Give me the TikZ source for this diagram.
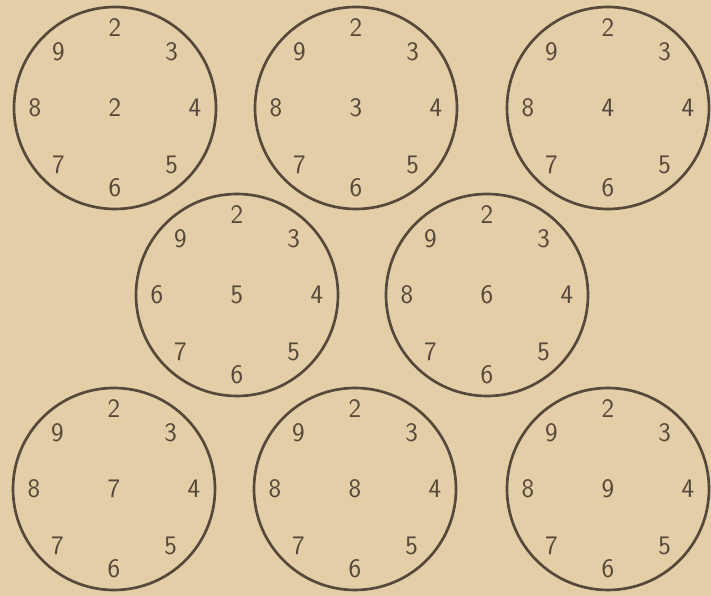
\documentclass[tikz,border=0pt]{standalone}
\usetikzlibrary{calc}
\definecolor{paper}{RGB}{228,206,167}
\definecolor{ink}{RGB}{86,72,58}
\tikzset{
    num/.style={
        font=\sffamily\fontsize{19}{22}\selectfont, text=ink, inner sep=0pt
    }
}

\begin{document}
\begin{tikzpicture}[x=1cm,y=1cm, line cap=round, line join=round]

\tikzset{
  dial/.style={circle, draw=ink, line width=1.9pt, minimum size=5.05cm, inner sep=0pt},
}

% paper
\useasboundingbox (0,0) rectangle (17.775,14.9);
\fill[paper] (0,0) rectangle (17.775,14.9);

% centres
\coordinate (c1) at (2.875,12.2);
\coordinate (c2) at (8.9,12.2);
\coordinate (c3) at (15.2,12.2);
\coordinate (c4) at (5.925,7.525);
\coordinate (c5) at (12.175,7.525);
\coordinate (c6) at (2.85,2.675);
\coordinate (c7) at (8.875,2.675);
\coordinate (c8) at (15.2,2.675);

% dials: centre / middle number / left number
\foreach \d/\m/\w in {c1/2/8, c2/3/8, c3/4/8, c4/5/6, c5/6/8, c6/7/8, c7/8/8, c8/9/8}{
  \node[dial] (\d-rim) at (\d) {};
  \node[num] (\d-mid) at (\d) {\m};
  \foreach \a/\t in {90/2, 45/3, 0/4, -45/5, -90/6, -135/7, 180/\w, 135/9}{
    \node[num] (\d-n\t) at ($(\d)+(\a:2.0)$) {\t};
  }
}

\end{tikzpicture}
\end{document}
